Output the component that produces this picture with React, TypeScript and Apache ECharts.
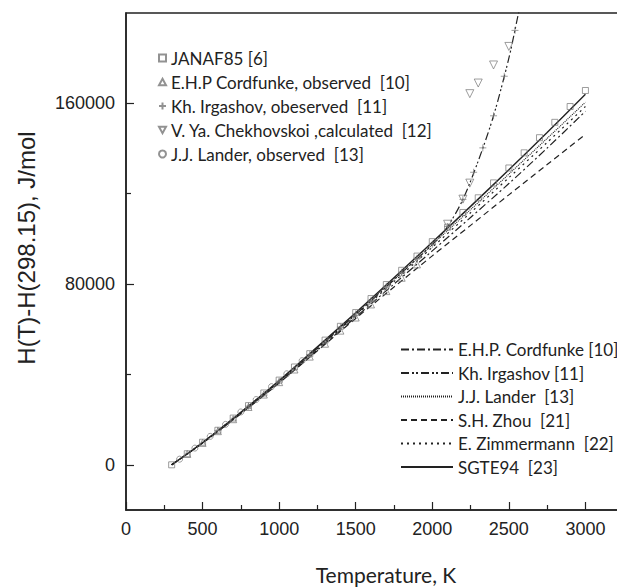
import React, { useEffect, useRef } from 'react';
import * as echarts from 'echarts';

// ---------- data ----------
const janafT = [298.15, 400, 500, 600, 700, 800, 900, 1000, 1100, 1200, 1300, 1400, 1500, 1600, 1700, 1800, 1900, 2000, 2100, 2200, 2300, 2400, 2500, 2600, 2700, 2800, 2900, 3000];
const janafH = [0, 4900, 10000, 15300, 20700, 26200, 31800, 37500, 43300, 49200, 55200, 61300, 67400, 73600, 79800, 86100, 92400, 98800, 105200, 111700, 118200, 124800, 131400, 138100, 144800, 151600, 158600, 165700];

const cordObsT = [400, 500, 600, 700, 800, 900, 1000, 1100, 1200, 1300, 1400, 1500, 1600, 1700, 1800, 1900];
const cordObsH = [4800, 9700, 14900, 20200, 25600, 31100, 36600, 42200, 47900, 53600, 59400, 65200, 71000, 76900, 82800, 88700];

const irgObsT = [600, 800, 1000, 1200, 1400, 1500, 1600, 1700, 1800, 1900, 2000, 2100, 2200, 2270, 2330, 2400, 2470, 2540];
const irgObsH = [15200, 26000, 37000, 48800, 61000, 66800, 72800, 79000, 85200, 91400, 97600, 105500, 117500, 129500, 140300, 154500, 172000, 192300];

const chekT = [2100, 2200, 2245, 2245, 2300, 2400, 2500];
const chekH = [106500, 117600, 124700, 164300, 169000, 177000, 185200];

const landerObsT = [350, 450, 550, 650, 750, 850, 950, 1050, 1150];
const landerObsH = [2500, 7400, 12600, 17900, 23400, 28900, 34600, 40300, 46100];

const curveT = [298.15, 500, 750, 1000, 1250, 1500, 1750, 2000, 2250, 2500, 2750, 3000];
const sgteH = [0, 9900, 23300, 37300, 52200, 67300, 82800, 98500, 114400, 130600, 147100, 164000];
const landerH = [0, 9800, 23100, 37000, 51800, 66800, 82100, 97500, 113000, 128700, 144500, 160500];
const zimmH = [0, 9700, 22900, 36700, 51300, 66100, 81100, 96300, 111600, 127100, 142700, 158600];
const cordH = [0, 9600, 22700, 36400, 50800, 65400, 80000, 94700, 109500, 124500, 140200, 156500];
const zhouH = [0, 9600, 22600, 36200, 50500, 64800, 78700, 92500, 106000, 119500, 132900, 146300];

const irgCurveT = [298.15, 500, 1000, 1500, 1800, 2000, 2100, 2200, 2300, 2400, 2500, 2560, 2600];
const irgCurveH = [0, 9800, 37000, 66500, 85000, 97500, 105500, 117500, 134500, 154500, 180000, 199000, 212000];

const yLabelValues = [0, 80000, 160000];
const yMinorValues = [40000, 120000];
const xLabelMax = 3000;

const scatterNames = [
  'JANAF85 [6]',
  'E.H.P Cordfunke, observed  [10]',
  'Kh. Irgashov, obeserved  [11]',
  'V. Ya. Chekhovskoi ,calculated  [12]',
  'J.J. Lander, observed  [13]',
];
const lineNames = [
  'E.H.P. Cordfunke [10]',
  'Kh. Irgashov [11]',
  'J.J. Lander  [13]',
  'S.H. Zhou  [21]',
  'E. Zimmermann  [22]',
  'SGTE94  [23]',
];

const pairs = (xs: number[], ys: number[]) => xs.map((x, i) => [x, ys[i]]);

const INK = '#222';
const MARK = '#777';
const SANS = '"Liberation Sans", Arial, sans-serif';
const CAL = 'Lato, "Open Sans", sans-serif';

export default function App() {
  const ref = useRef<HTMLDivElement>(null);
  useEffect(() => {
    const chart = echarts.init(ref.current!, null, { renderer: 'svg' });
    const markStyle = { color: 'rgba(255,255,255,0)', borderColor: MARK, borderWidth: 0.9 };
    const lineSeries = (name: string, xs: number[], ys: number[], type: any, width = 1.2) => ({
      name,
      type: 'line',
      data: pairs(xs, ys),
      symbol: 'none',
      showSymbol: false,
      smooth: 0.3,
      clip: true,
      lineStyle: { color: INK, width, type },
      itemStyle: { color: INK },
      z: 2,
    });
    const plain = (v: number) => String(v);
    const option: any = {
      animation: false,
      backgroundColor: '#fff',
      grid: {
        left: 126, top: 13, width: 536, height: 497,
        show: true, borderColor: INK, borderWidth: 1.5,
        containLabel: false, outerBoundsMode: 'none',
      },
      xAxis: {
        type: 'value',
        min: 0,
        max: 3500,
        interval: 500,
        axisLine: { onZero: false, lineStyle: { color: INK, width: 1.5 } },
        axisTick: { inside: true, length: 8, lineStyle: { color: INK, width: 1.2 } },
        minorTick: { show: true, splitNumber: 2, length: 5, lineStyle: { color: INK, width: 1.2 } },
        axisLabel: {
          fontFamily: SANS, fontSize: 18, color: INK, margin: 10,
          formatter: (v: number) => (v > xLabelMax ? '' : String(v)),
        },
        splitLine: { show: false },
      },
      yAxis: [
        {
          type: 'value',
          min: -20000,
          max: 200000,
          axisLine: { onZero: false, lineStyle: { color: INK, width: 1.5 } },
          axisTick: { inside: true, length: 8, customValues: yLabelValues, lineStyle: { color: INK, width: 1.2 } },
          axisLabel: { fontFamily: SANS, fontSize: 18, color: INK, margin: 11, customValues: yLabelValues, formatter: plain },
          splitLine: { show: false },
        },
        {
          type: 'value',
          min: -20000,
          max: 200000,
          position: 'left',
          offset: 0,
          axisLine: { show: false, onZero: false },
          axisTick: { inside: true, length: 5, customValues: yMinorValues, lineStyle: { color: INK, width: 1.2 } },
          axisLabel: { show: false },
          splitLine: { show: false },
        },
      ],
      legend: [
        {
          orient: 'vertical',
          left: 153,
          top: 44,
          itemWidth: 7,
          itemHeight: 7,
          itemGap: 6,
          selectedMode: false,
          data: scatterNames,
          textStyle: { fontFamily: CAL, fontSize: 17, color: INK, lineHeight: 18 },
        },
        {
          orient: 'vertical',
          left: 395,
          top: 335.5,
          itemWidth: 52,
          itemHeight: 10,
          itemGap: 5.5,
          selectedMode: false,
          data: lineNames,
          itemStyle: { color: 'transparent', borderColor: 'transparent', borderWidth: 0, opacity: 0 },
          textStyle: { fontFamily: CAL, fontSize: 17, color: INK, lineHeight: 18 },
        },
      ],
      graphic: [
        {
          type: 'text',
          x: 26,
          y: 248,
          rotation: Math.PI / 2,
          style: {
            text: 'H(T)-H(298.15), J/mol',
            font: `24px ${SANS}`,
            fill: INK,
            align: 'center',
            verticalAlign: 'middle',
          },
        },
        {
          type: 'text',
          x: 386,
          y: 574,
          style: {
            text: 'Temperature, K',
            font: `21px ${CAL}`,
            fill: INK,
            align: 'center',
            verticalAlign: 'middle',
          },
        },
      ],
      series: [
        lineSeries(lineNames[0], curveT, cordH, [8, 3, 2, 3]),
        lineSeries(lineNames[1], irgCurveT, irgCurveH, [8, 3, 2, 2, 2, 3]),
        lineSeries(lineNames[2], curveT, landerH, [1, 1], 1.1),
        lineSeries(lineNames[3], curveT, zhouH, [6, 4]),
        lineSeries(lineNames[4], curveT, zimmH, [2, 4]),
        lineSeries(lineNames[5], curveT, sgteH, 'solid', 1.4),
        {
          name: scatterNames[0], type: 'scatter', data: pairs(janafT, janafH),
          symbol: 'rect', symbolSize: 6, itemStyle: markStyle, z: 3,
        },
        {
          name: scatterNames[1], type: 'scatter', data: pairs(cordObsT, cordObsH),
          symbol: 'path://M5,0L10,9L0,9Z', symbolSize: 7, itemStyle: markStyle, z: 3,
        },
        {
          name: scatterNames[2], type: 'scatter', data: pairs(irgObsT, irgObsH),
          symbol: 'path://M5,0L5,10M0,5L10,5', symbolSize: 7, itemStyle: markStyle, z: 3,
        },
        {
          name: scatterNames[3], type: 'scatter', data: pairs(chekT, chekH),
          symbol: 'path://M0,0L10,0L5,9Z', symbolSize: 8, itemStyle: markStyle, z: 3,
        },
        {
          name: scatterNames[4], type: 'scatter', data: pairs(landerObsT, landerObsH),
          symbol: 'circle', symbolSize: 6, itemStyle: markStyle, z: 3,
        },
      ],
    };
    chart.setOption(option);
    return () => chart.dispose();
  }, []);
  return (
    <div
      ref={ref}
      style={{ position: 'fixed', left: 0, top: 0, width: 617, height: 587, background: '#fff' }}
    />
  );
}
